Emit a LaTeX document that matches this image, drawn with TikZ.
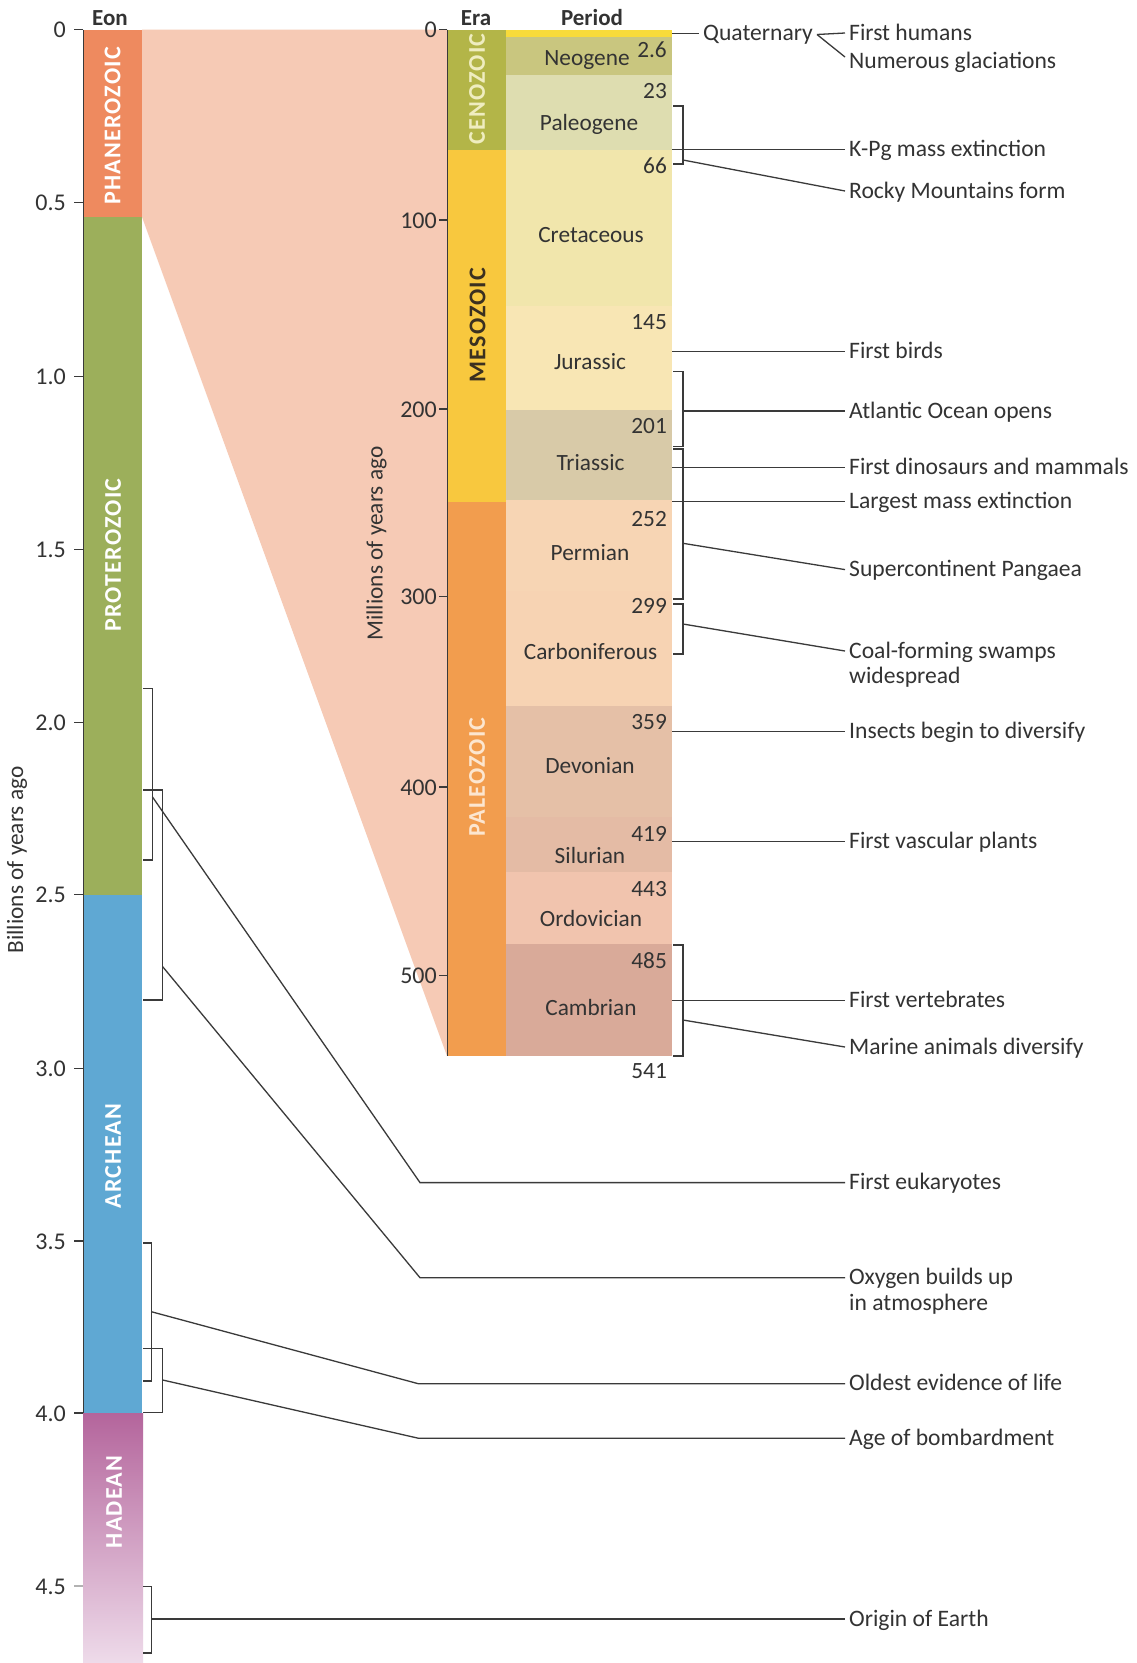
\documentclass[tikz,border=0pt]{standalone}
\usepackage{fontspec}
\setmainfont{Carlito}
\newfontfamily\spacedfont[LetterSpace=5]{Carlito}
\usetikzlibrary{calc}
\definecolor{txt}{HTML}{333333}
\definecolor{lnc}{HTML}{3A3A3A}
\definecolor{cWedge}{HTML}{F6CAB5}
\definecolor{cPhan}{HTML}{EE8A5F}
\definecolor{cProt}{HTML}{9CAF5B}
\definecolor{cArch}{HTML}{5FA8D3}
\definecolor{cHadA}{HTML}{B4659C}
\definecolor{cHadB}{HTML}{D6A2C8}
\definecolor{cHadC}{HTML}{EEDBEA}
\definecolor{cCeno}{HTML}{B3B548}
\definecolor{cMeso}{HTML}{F8C83E}
\definecolor{cPaleo}{HTML}{F29D4E}
\definecolor{cQuat}{HTML}{F8DB3A}
\definecolor{cNeo}{HTML}{C9C67F}
\definecolor{cPalg}{HTML}{DEDDB0}
\definecolor{cCret}{HTML}{F1E6AC}
\definecolor{cJur}{HTML}{F8E6B4}
\definecolor{cTri}{HTML}{D8CAA8}
\definecolor{cPerm}{HTML}{F7D5B4}
\definecolor{cCarb}{HTML}{F7D3B3}
\definecolor{cDev}{HTML}{E5C0A7}
\definecolor{cSil}{HTML}{E4BBA5}
\definecolor{cOrd}{HTML}{F1C4AE}
\definecolor{cCamb}{HTML}{D9AA99}
\definecolor{cCenoT}{HTML}{EFEDC0}
\definecolor{cMesoT}{HTML}{3B3020}
\definecolor{cPaleoT}{HTML}{FCE6D0}
\tikzset{
  ln/.style={draw=lnc, line width=1.3pt},
  lbl/.style={anchor=west, inner xsep=4pt, inner ysep=0pt, text height=18pt, text depth=4pt, font=\fontsize{23.6}{25.5}\selectfont, text=txt},
  lbltwo/.style={anchor=base west, inner xsep=4pt, inner ysep=0pt, align=left, font=\fontsize{23.6}{25.5}\selectfont, text=txt},
  per/.style={inner sep=0pt, text height=16pt, text depth=4pt, font=\fontsize{23.3}{25}\selectfont, text=txt},
  num/.style={anchor=east, inner sep=0pt, text height=14.5pt, text depth=0pt, font=\fontsize{23.3}{25}\selectfont, text=txt},
  ticklbl/.style={anchor=east, inner sep=0pt, text height=16pt, text depth=0pt, font=\fontsize{24}{26}\selectfont, text=txt},
  hdr/.style={anchor=base, inner sep=0pt, font=\bfseries\fontsize{23}{25}\selectfont, text=txt},
  bandname/.style={rotate=90, inner sep=0pt, font=\spacedfont\bfseries\fontsize{24}{26}\selectfont},
  axlbl/.style={rotate=90, inner sep=0pt, font=\fontsize{23.3}{25}\selectfont, text=txt},
}
\begin{document}
\begin{tikzpicture}[x=1pt,y=-1pt]
\useasboundingbox[fill=white] (0,0) rectangle (1136,1663);

% zoom wedge
\fill[cWedge] (142,29.5) -- (447,29.5) -- (447,1056) -- (142,217) -- cycle;

% eon bar
\fill[cPhan] (83,29.5) rectangle (142,217);
\fill[cProt] (83,217) rectangle (142,894.5);
\fill[cArch] (83,894.5) rectangle (142,1413);
\shade[top color=cHadA, middle color=cHadB, bottom color=cHadC] (83,1413) rectangle (143,1663);

% era bar
\fill[cCeno] (447,29.5) rectangle (506,150);
\fill[cMeso] (447,150) rectangle (506,502);
\fill[cPaleo] (447,502) rectangle (506,1056);

% period column
\fill[cQuat] (506,29.5) rectangle (672,36.5);
\fill[cNeo] (506,36.5) rectangle (672,75);
\fill[cPalg] (506,75) rectangle (672,150);
\fill[cCret] (506,150) rectangle (672,306);
\fill[cJur] (506,306) rectangle (672,410);
\fill[cTri] (506,410) rectangle (672,500);
\fill[cPerm] (506,500) rectangle (672,591);
\fill[cCarb] (506,591) rectangle (672,706);
\fill[cDev] (506,706) rectangle (672,816.7);
\fill[cSil] (506,816.7) rectangle (672,871.7);
\fill[cOrd] (506,871.7) rectangle (672,944);
\fill[cCamb] (506,944) rectangle (672,1056);

% axes
\draw[ln, line width=1pt] (83,29.5) -- (83,1413);
\foreach \yy in {29.5,202.5,376.5,549.5,722.5,894.5,1068.5,1241,1413}
  \draw[ln] (74,\yy) -- (83,\yy);
\draw[draw=gray!60, line width=1.2pt] (74,1586) -- (83,1586);
\draw[ln, line width=1pt] (447,29.5) -- (447,1056);
\foreach \yy in {29.5,220,409,596.7,787,975.5}
  \draw[ln] (439,\yy) -- (447,\yy);

% eon axis labels
\node[ticklbl] (t0) at (66,29.5) {0};
\node[ticklbl] (t05) at (66,202.5) {0.5};
\node[ticklbl] (t10) at (66,376.5) {1.0};
\node[ticklbl] (t15) at (66,549.5) {1.5};
\node[ticklbl] (t20) at (66,722.5) {2.0};
\node[ticklbl] (t25) at (66,894.5) {2.5};
\node[ticklbl] (t30) at (66,1068.5) {3.0};
\node[ticklbl] (t35) at (66,1241) {3.5};
\node[ticklbl] (t40) at (66,1413) {4.0};
\node[ticklbl] (t45) at (66,1586) {4.5};
\node[axlbl] (bya) at (17,860) {Billions of years ago};

% era axis labels
\node[ticklbl] (m0) at (437,29.5) {0};
\node[ticklbl] (m100) at (437,220) {100};
\node[ticklbl] (m200) at (437,409) {200};
\node[ticklbl] (m300) at (437,596.7) {300};
\node[ticklbl] (m400) at (437,787) {400};
\node[ticklbl] (m500) at (437,975.5) {500};
\node[axlbl] (mya) at (376.5,543.6) {Millions of years ago};

% headers
\node[hdr] (hEon) at (110,25) {Eon};
\node[hdr] (hEra) at (476,25) {Era};
\node[hdr] (hPer) at (592,25) {Period};

% eon names
\node[bandname, text=white] (nPhan) at (112.5,126) {PHANEROZOIC};
\node[bandname, text=white] (nProt) at (113,555) {PROTEROZOIC};
\node[bandname, text=white] (nArch) at (113,1156) {ARCHEAN};
\node[bandname, text=white] (nHad) at (114,1502) {HADEAN};

% era names
\node[bandname, text=cCenoT] (nCeno) at (477,89) {CENOZOIC};
\node[bandname, text=cMesoT] (nMeso) at (477.5,325) {MESOZOIC};
\node[bandname, text=cPaleoT] (nPaleo) at (477,777) {PALEOZOIC};

% period names
\node[per] (pNeo) at (587,59) {Neogene};
\node[per] (pPalg) at (589,124) {Paleogene};
\node[per] (pCret) at (591,236.7) {Cretaceous};
\node[per] (pJur) at (590,363.3) {Jurassic};
\node[per] (pTri) at (590.5,464) {Triassic};
\node[per] (pPerm) at (590,554) {Permian};
\node[per] (pCarb) at (590.5,653.3) {Carboniferous};
\node[per] (pDev) at (590,767.3) {Devonian};
\node[per] (pSil) at (590,857.3) {Silurian};
\node[per] (pOrd) at (591,920) {Ordovician};
\node[per] (pCamb) at (591,1009) {Cambrian};

% boundary numbers
\node[num] (n26) at (667,50.7) {2.6};
\node[num] (n23) at (667,91.7) {23};
\node[num] (n66) at (667,165.8) {66};
\node[num] (n145) at (667,322.5) {145};
\node[num] (n201) at (667,425.8) {201};
\node[num] (n252) at (667,519.2) {252};
\node[num] (n299) at (667,605.8) {299};
\node[num] (n359) at (667,722.5) {359};
\node[num] (n419) at (667,834) {419};
\node[num] (n443) at (667,888.8) {443};
\node[num] (n485) at (667,961.7) {485};
\node[num] (n541) at (667,1071.5) {541};

% right labels
\node[lbl] (lQuat) at (699,33.3) {Quaternary};
\node[lbl] (lHum) at (845,33) {First humans};
\node[lbl] (lNum) at (845,61.5) {Numerous glaciations};
\node[lbl] (lKPg) at (845,149.3) {K-Pg mass extinction};
\node[lbl] (lRocky) at (845,191) {Rocky Mountains form};
\node[lbl] (lBirds) at (845,351.7) {First birds};
\node[lbl] (lAtl) at (845,411) {Atlantic Ocean opens};
\node[lbl] (lDino) at (845,467.3) {First dinosaurs and mammals};
\node[lbl] (lExt) at (845,501.7) {Largest mass extinction};
\node[lbl] (lPang) at (845,569.6) {Supercontinent Pangaea};
\node[lbltwo] (lCoal) at (845,683.5) {Coal-forming swamps\\widespread};
\node[lbl] (lIns) at (845,731.7) {Insects begin to diversify};
\node[lbl] (lVasc) at (845,841.7) {First vascular plants};
\node[lbl] (lVert) at (845,1000.7) {First vertebrates};
\node[lbl] (lMar) at (845,1047) {Marine animals diversify};
\node[lbl] (lEuk) at (845,1182.6) {First eukaryotes};
\node[lbltwo] (lOxy) at (845,1310.2) {Oxygen builds up\\in atmosphere};
\node[lbl] (lOld) at (845,1383.7) {Oldest evidence of life};
\node[lbl] (lBomb) at (845,1438.2) {Age of bombardment};
\node[lbl] (lOrig) at (845,1619) {Origin of Earth};

% brackets beside the period column
\draw[ln] (673,106) -- (683,106) -- (683,164) -- (673,164);
\draw[ln] (673,371.7) -- (683,371.7) -- (683,446.7) -- (673,446.7);
\draw[ln] (673,449) -- (683,449) -- (683,599) -- (673,599);
\draw[ln] (673,604) -- (683,604) -- (683,654) -- (673,654);
\draw[ln] (673,945) -- (683,945) -- (683,1056) -- (673,1056);

% brackets beside the eon bar
\draw[ln] (143,688.3) -- (152.3,688.3) -- (152.3,860) -- (143,860);
\draw[ln] (143,790) -- (162.7,790) -- (162.7,1000) -- (143,1000);
\draw[ln] (143,1243) -- (151.7,1243) -- (151.7,1381) -- (143,1381);
\draw[ln] (143,1348.8) -- (162.7,1348.8) -- (162.7,1412.4) -- (143,1412.4);
\draw[ln] (143,1586.5) -- (151.7,1586.5) -- (151.7,1653) -- (143,1653);

% connector anchor points
\coordinate (eQuat) at (672,33.3);
\coordinate (qApex) at (817,34.5);
\coordinate (cNumEnd) at ($(lNum.west)+(0,-4.5)$);
\coordinate (eKPg) at (672,149.3);
\coordinate (bRocky) at (683,160);
\coordinate (eBirds) at (672,351.7);
\coordinate (bAtl) at (683,411);
\coordinate (eDino) at (672,467.3);
\coordinate (eExt) at (672,501.7);
\coordinate (bPang) at (683,543.3);
\coordinate (bCoal) at (683,624);
\coordinate (cCoalEnd) at ($(lCoal.base west)+(0,-32.5)$);
\coordinate (eIns) at (672,731.7);
\coordinate (eVasc) at (672,841.7);
\coordinate (eVert) at (672,1000.7);
\coordinate (bMar) at (683,1020);
\coordinate (bEuk) at (152.3,796.7);
\coordinate (kEuk) at (420,1182.6);
\coordinate (bOxy) at (162.7,966.7);
\coordinate (kOxy) at (420,1277.7);
\coordinate (cOxyEnd) at ($(lOxy.base west)+(0,-32.5)$);
\coordinate (bOld) at (151.7,1311.8);
\coordinate (kOld) at (418.3,1383.7);
\coordinate (bBomb) at (162.7,1380);
\coordinate (kBomb) at (418.3,1438.2);
\coordinate (bOrig) at (151.7,1619);

% connectors
\draw[ln] (eQuat) -- (lQuat.west);
\draw[ln] (qApex) -- (lHum.west);
\draw[ln] (qApex) -- (cNumEnd);
\draw[ln] (eKPg) -- (lKPg.west);
\draw[ln] (bRocky) -- (lRocky.west);
\draw[ln] (eBirds) -- (lBirds.west);
\draw[ln] (bAtl) -- (lAtl.west);
\draw[ln] (eDino) -- (lDino.west);
\draw[ln] (eExt) -- (lExt.west);
\draw[ln] (bPang) -- (lPang.west);
\draw[ln] (bCoal) -- (cCoalEnd);
\draw[ln] (eIns) -- (lIns.west);
\draw[ln] (eVasc) -- (lVasc.west);
\draw[ln] (eVert) -- (lVert.west);
\draw[ln] (bMar) -- (lMar.west);
\draw[ln] (bEuk) -- (kEuk) -- (lEuk.west);
\draw[ln] (bOxy) -- (kOxy) -- (cOxyEnd);
\draw[ln] (bOld) -- (kOld) -- (lOld.west);
\draw[ln] (bBomb) -- (kBomb) -- (lBomb.west);
\draw[ln] (bOrig) -- (lOrig.west);
\end{tikzpicture}
\end{document}
